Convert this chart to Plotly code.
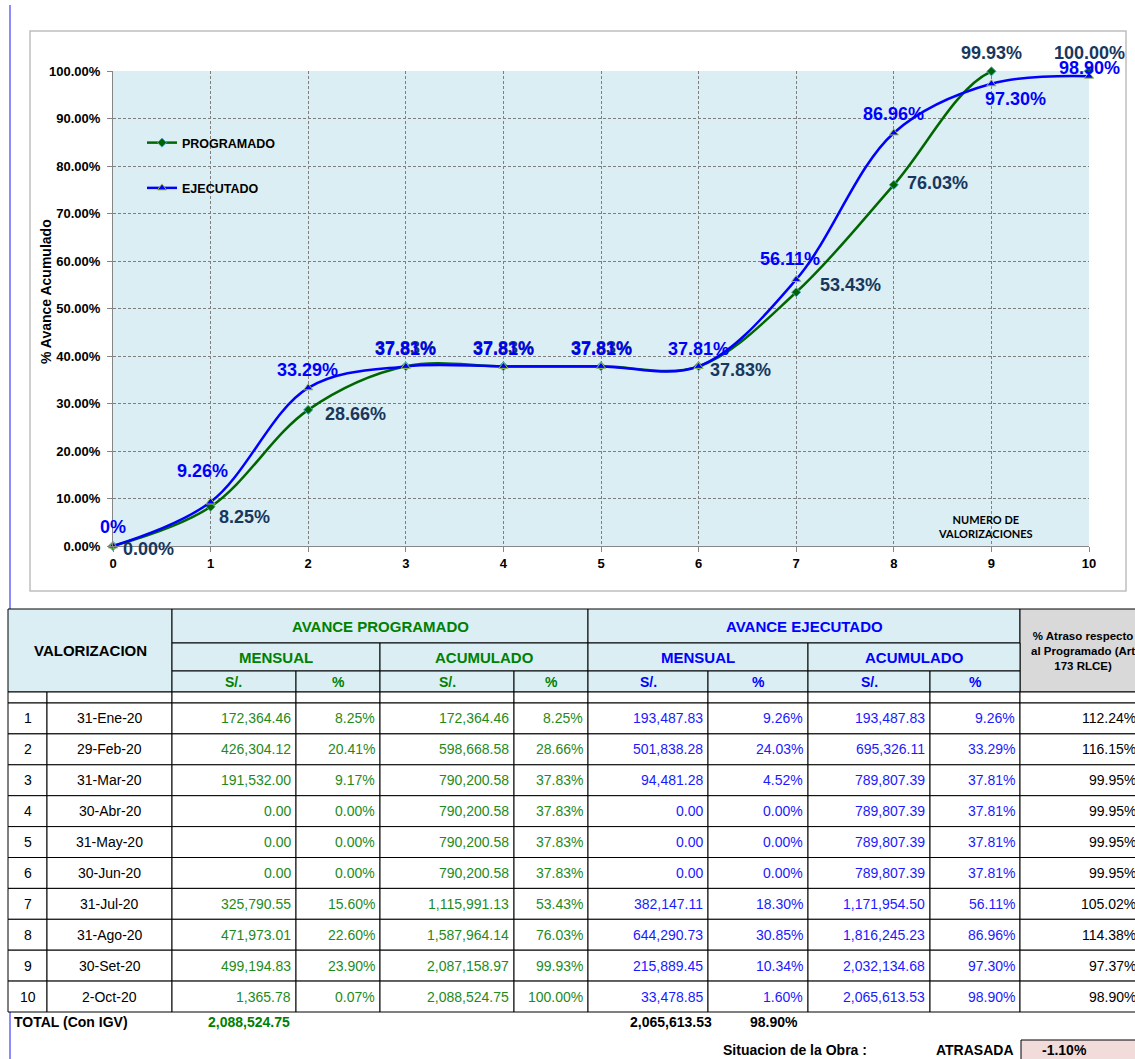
import plotly.graph_objects as go

W, H = 1135, 1059
FONT = "Liberation Sans, Arial, sans-serif"

# ---------------- DATA ----------------
val_no = list(range(1, 11))
val_fecha = ["31-Ene-20", "29-Feb-20", "31-Mar-20", "30-Abr-20", "31-May-20",
             "30-Jun-20", "31-Jul-20", "31-Ago-20", "30-Set-20", "2-Oct-20"]
prog_mens_soles = [172364.46, 426304.12, 191532.00, 0.00, 0.00, 0.00,
                   325790.55, 471973.01, 499194.83, 1365.78]
prog_mens_pct = [8.25, 20.41, 9.17, 0.00, 0.00, 0.00, 15.60, 22.60, 23.90, 0.07]
prog_acum_soles = [172364.46, 598668.58, 790200.58, 790200.58, 790200.58, 790200.58,
                   1115991.13, 1587964.14, 2087158.97, 2088524.75]
prog_acum_pct = [8.25, 28.66, 37.83, 37.83, 37.83, 37.83, 53.43, 76.03, 99.93, 100.00]
ejec_mens_soles = [193487.83, 501838.28, 94481.28, 0.00, 0.00, 0.00,
                   382147.11, 644290.73, 215889.45, 33478.85]
ejec_mens_pct = [9.26, 24.03, 4.52, 0.00, 0.00, 0.00, 18.30, 30.85, 10.34, 1.60]
ejec_acum_soles = [193487.83, 695326.11, 789807.39, 789807.39, 789807.39, 789807.39,
                   1171954.50, 1816245.23, 2032134.68, 2065613.53]
ejec_acum_pct = [9.26, 33.29, 37.81, 37.81, 37.81, 37.81, 56.11, 86.96, 97.30, 98.90]
atraso_pct = [112.24, 116.15, 99.95, 99.95, 99.95, 99.95, 105.02, 114.38, 97.37, 98.90]
total_prog = 2088524.75
total_ejec = 2065613.53
total_ejec_pct = 98.90
situacion = "ATRASADA"
situacion_pct = -1.10

x_val = [0] + val_no
y_prog = [0.0] + prog_acum_pct
y_ejec = [0.0] + ejec_acum_pct
lab_prog = [f"{v:.2f}%" for v in y_prog]
lab_ejec = ["0%"] + [f"{v:.2f}%" for v in ejec_acum_pct]

# label offsets in pixels (dx right, dy down)
off_prog = [(35, 3), (34, 10), (47, 4), (0, -18), (0, -18), (0, -18),
            (42, 4), (54, -7), (44, -2), (0, -18), (0, -18)]
off_ejec = [(0, -19), (-8, -31), (-1, -18), (0, -17), (0, -17), (0, -17),
            (0, -17), (-6, -20), (0, -19), (24, 15), (0, -8)]

C_PROG_LINE = "#006600"
C_EJEC_LINE = "#0000FF"
C_PROG_LAB = "#17375E"
C_EJEC_LAB = "#0000FF"
C_GREEN_TXT = "#1E8A1E"
C_GREEN_HDR = "#008000"
C_BLUE_TXT = "#1A1AFF"
HDR_FILL = "#DAEEF3"

fig = go.Figure()
fig.add_trace(go.Scatter(
    x=x_val, y=[v / 100 for v in y_prog], mode="lines+markers", name="PROGRAMADO",
    legendgroup="p", line=dict(color=C_PROG_LINE, width=2.5, shape="spline", smoothing=1),
    marker=dict(symbol="diamond", size=7, color="#006400", line=dict(color="#4BACC6", width=1)),
    cliponaxis=False))
fig.add_trace(go.Scatter(
    x=x_val, y=[v / 100 for v in y_ejec], mode="lines+markers", name="EJECUTADO",
    legendgroup="e", line=dict(color=C_EJEC_LINE, width=2.5, shape="spline", smoothing=1),
    marker=dict(symbol="triangle-up", size=8, color="#0000FF", line=dict(color="#9BBB59", width=1)),
    cliponaxis=False))

annots = []
for i, (xv, yv) in enumerate(zip(x_val, y_prog)):
    dx, dy = off_prog[i]
    annots.append(dict(x=xv, y=yv / 100, xref="x", yref="y", text=f"<b>{lab_prog[i]}</b>",
                       showarrow=False, xshift=dx, yshift=-dy,
                       xanchor="center", yanchor="middle",
                       font=dict(family=FONT, size=18, color=C_PROG_LAB)))
for i, (xv, yv) in enumerate(zip(x_val, y_ejec)):
    dx, dy = off_ejec[i]
    annots.append(dict(x=xv, y=yv / 100, xref="x", yref="y", text=f"<b>{lab_ejec[i]}</b>",
                       showarrow=False, xshift=dx, yshift=-dy,
                       xanchor="center", yanchor="middle",
                       font=dict(family=FONT, size=18, color=C_EJEC_LAB)))

annots.append(dict(x=8.94, y=0.041, xref="x", yref="y",
                   text="<b>NUMERO DE<br>VALORIZACIONES</b>", showarrow=False,
                   xanchor="center", yanchor="middle",
                   font=dict(family="Lato, Open Sans, sans-serif", size=11, color="black")))


def X(px):
    return px / W


def Y(py):
    return 1 - py / H


annots.append(dict(x=X(46), y=Y(292), xref="paper", yref="paper", textangle=-90,
                   xanchor="center", yanchor="middle",
                   text="<b>% Avance Acumulado</b>", showarrow=False,
                   font=dict(family=FONT, size=14, color="black")))

shapes = []
# chart frame
shapes.append(dict(type="rect", xref="paper", yref="paper", x0=X(30), x1=X(1126), y0=Y(591), y1=Y(31),
                   line=dict(color="#BFBFBF", width=1.5), layer="below"))
# page border line
shapes.append(dict(type="line", xref="paper", yref="paper", x0=X(10), x1=X(10), y0=Y(1059), y1=Y(5),
                   line=dict(color="#3F3FFF", width=1.2), layer="above"))


def rect(x0, y0, x1, y1, fill=None, lw=1, lc="black"):
    shapes.append(dict(type="rect", xref="paper", yref="paper", x0=X(x0), x1=X(x1), y0=Y(y1), y1=Y(y0),
                       line=dict(color=lc, width=lw), fillcolor=fill or "rgba(0,0,0,0)", layer="above"))


def text(px, py, s, size=14, color="black", bold=False, anchor="center"):
    annots.append(dict(xref="paper", yref="paper", x=X(px), y=Y(py),
                       text=f"<b>{s}</b>" if bold else s, showarrow=False,
                       xanchor=anchor, yanchor="middle",
                       font=dict(size=size, color=color, family=FONT)))


# ---------------- TABLE LAYOUT ----------------
col_edges = [8, 47, 172, 296, 380, 514, 588, 708, 808, 930, 1020, 1146]
h_top, h1, h2, h3, h4 = 609, 643, 671, 692, 703
row_h = 30.9
row_tops = [h4 + row_h * k for k in range(11)]

# header
rect(col_edges[0], h_top, col_edges[2], h3, HDR_FILL)
text((col_edges[0] + col_edges[2]) / 2, (h_top + h3) / 2, "VALORIZACION", 15, "black", True)
rect(col_edges[2], h_top, col_edges[6], h1, HDR_FILL)
text((col_edges[2] + col_edges[6]) / 2, (h_top + h1) / 2, "AVANCE PROGRAMADO", 15, C_GREEN_HDR, True)
rect(col_edges[6], h_top, col_edges[10], h1, HDR_FILL)
text((col_edges[6] + col_edges[10]) / 2, (h_top + h1) / 2, "AVANCE EJECUTADO", 15, "#0000FF", True)
rect(col_edges[10], h_top, col_edges[11], h3, "#D9D9D9")
text(1083, (h_top + h3) / 2, "% Atraso respecto<br>al Programado (Art<br>173 RLCE)", 11.5, "black", True)

sub_groups = [(2, 4, "MENSUAL", C_GREEN_HDR), (4, 6, "ACUMULADO", C_GREEN_HDR),
              (6, 8, "MENSUAL", "#0000FF"), (8, 10, "ACUMULADO", "#0000FF")]
for a, b, lab, col in sub_groups:
    rect(col_edges[a], h1, col_edges[b], h2, HDR_FILL)
    text((col_edges[a] + col_edges[b]) / 2, (h1 + h2) / 2, lab, 15, col, True)
unit_labels = ["S/.", "%"] * 4
unit_colors = [C_GREEN_HDR] * 4 + ["#0000FF"] * 4
for j in range(8):
    a = col_edges[2 + j]
    b = col_edges[3 + j]
    rect(a, h2, b, h3, HDR_FILL)
    text((a + b) / 2, (h2 + h3) / 2, unit_labels[j], 14, unit_colors[j], True)

# empty spacer row
for j in range(11):
    rect(col_edges[j], h3, col_edges[j + 1], h4, "white")

# body
fmt_money = lambda v: f"{v:,.2f}"
fmt_pct = lambda v: f"{v:.2f}%"
columns = [
    ([str(v) for v in val_no], "black", "center"),
    (val_fecha, "black", "center"),
    ([fmt_money(v) for v in prog_mens_soles], C_GREEN_TXT, "right"),
    ([fmt_pct(v) for v in prog_mens_pct], C_GREEN_TXT, "right"),
    ([fmt_money(v) for v in prog_acum_soles], C_GREEN_TXT, "right"),
    ([fmt_pct(v) for v in prog_acum_pct], C_GREEN_TXT, "right"),
    ([fmt_money(v) for v in ejec_mens_soles], C_BLUE_TXT, "right"),
    ([fmt_pct(v) for v in ejec_mens_pct], C_BLUE_TXT, "right"),
    ([fmt_money(v) for v in ejec_acum_soles], C_BLUE_TXT, "right"),
    ([fmt_pct(v) for v in ejec_acum_pct], C_BLUE_TXT, "right"),
    ([fmt_pct(v) for v in atraso_pct], "black", "right"),
]
for r in range(10):
    y0 = row_tops[r]
    y1 = row_tops[r + 1]
    for j, (vals, colr, al) in enumerate(columns):
        a, b = col_edges[j], col_edges[j + 1]
        rect(a, y0, b, y1, "white")
        if al == "center":
            text((a + b) / 2, (y0 + y1) / 2, vals[r], 14, colr)
        else:
            rx = b - 3 if j < 10 else 1138
            text(rx, (y0 + y1) / 2, vals[r], 14, colr, anchor="right")

# totals
y_tot = row_tops[10] + 10
text(12, y_tot, "TOTAL (Con IGV)", 14, "black", True, "left")
text(292, y_tot, fmt_money(total_prog), 14, C_GREEN_HDR, True, "right")
text(714, y_tot, fmt_money(total_ejec), 14, "black", True, "right")
text(800, y_tot, fmt_pct(total_ejec_pct), 14, "black", True, "right")

y_sit = 1050
text(721, y_sit, "Situacion de la Obra :", 14, "black", True, "left")
text(1016, y_sit, situacion, 14, "black", True, "right")
rect(1021, 1040, 1146, 1064, "#F2DCDB")
text(1064, y_sit, fmt_pct(situacion_pct), 14, "black", True)

fig.update_layout(
    width=W, height=H, autosize=False,
    margin=dict(l=0, r=0, t=0, b=0),
    paper_bgcolor="white", plot_bgcolor="#DAEEF3",
    font=dict(family=FONT, color="black"),
    showlegend=True,
    legend=dict(x=X(142), y=Y(128), xanchor="left", yanchor="top",
                bgcolor="rgba(0,0,0,0)", tracegroupgap=26, itemwidth=30,
                font=dict(family=FONT, size=12.5, color="black", weight="bold"),
                traceorder="grouped"),
    xaxis=dict(domain=[X(113), X(1089)], range=[0, 10], tickmode="linear", tick0=0, dtick=1,
               showgrid=True, gridcolor="#7F7F7F", griddash="3px,2px", gridwidth=1,
               showline=True, linecolor="#868686", linewidth=1, zeroline=False,
               ticks="outside", ticklen=5, tickcolor="#868686", automargin=False,
               tickfont=dict(family=FONT, size=13, color="black", weight="bold")),
    yaxis=dict(domain=[Y(546), Y(71)], range=[0, 1], tickmode="linear", tick0=0, dtick=0.1,
               tickformat=".2%",
               showgrid=True, gridcolor="#7F7F7F", griddash="3px,2px", gridwidth=1,
               showline=True, linecolor="#868686", linewidth=1, zeroline=False,
               ticks="outside", ticklen=5, tickcolor="#868686", automargin=False,
               ticklabelstandoff=4,
               tickfont=dict(family=FONT, size=13, color="black", weight="bold")),
    annotations=annots,
    shapes=shapes,
)

fig.write_html("out.html", config={"displayModeBar": False},
               post_script="document.body.style.margin='0px';document.body.style.overflow='hidden';")
